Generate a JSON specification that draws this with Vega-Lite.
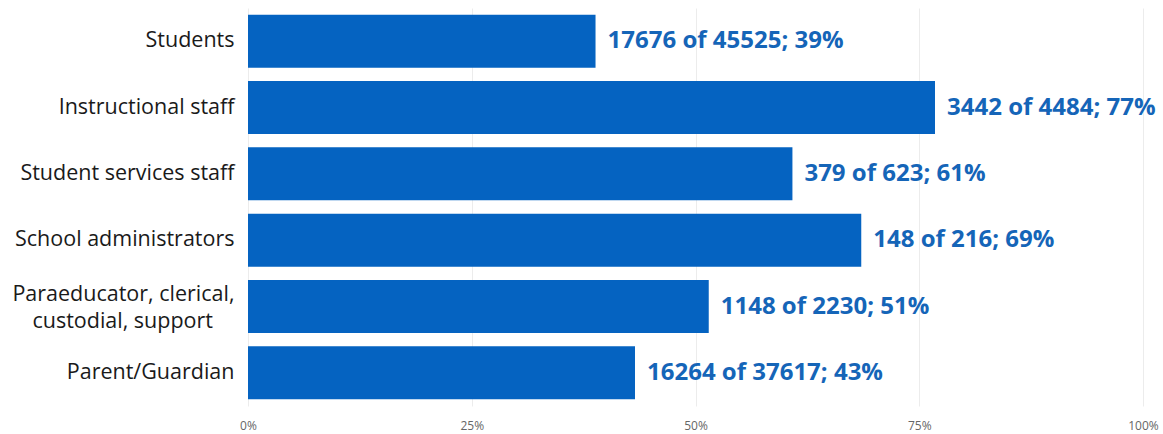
{
  "$schema": "https://vega.github.io/schema/vega-lite/v6.json",
  "autosize": {"type": "none"},
  "width": 895,
  "height": 398,
  "padding": {"left": 248, "top": 8, "right": 20, "bottom": 28},
  "background": "white",
  "config": {"view": {"stroke": null}, "font": "Open Sans"},
  "data": {
    "values": [
      {"group": "Students", "n": 17676, "total": 45525, "pct": 0.3883, "label": "17676 of 45525; 39%"},
      {"group": "Instructional staff", "n": 3442, "total": 4484, "pct": 0.7676, "label": "3442 of 4484; 77%"},
      {"group": "Student services staff", "n": 379, "total": 623, "pct": 0.6083, "label": "379 of 623; 61%"},
      {"group": "School administrators", "n": 148, "total": 216, "pct": 0.6852, "label": "148 of 216; 69%"},
      {"group": "Paraeducator, clerical, custodial, support", "n": 1148, "total": 2230, "pct": 0.5148, "label": "1148 of 2230; 51%"},
      {"group": "Parent/Guardian", "n": 16264, "total": 37617, "pct": 0.4324, "label": "16264 of 37617; 43%"}
    ]
  },
  "encoding": {
    "y": {
      "field": "group",
      "type": "nominal",
      "sort": null,
      "scale": {"paddingInner": 0.2, "paddingOuter": 0.1},
      "axis": {
        "title": null,
        "domain": false,
        "ticks": false,
        "labelFontSize": 21.5,
        "labelColor": "#1a1a1a",
        "labelPadding": 14,
        "labelLimit": 300,
        "labelExpr": "datum.value == 'Paraeducator, clerical, custodial, support' ? ['Paraeducator, clerical,', 'custodial, support\u2003\u200b'] : datum.value",
        "labelLineHeight": 27,
        "labelOffset": {"condition": {"test": "datum.value == 'Paraeducator, clerical, custodial, support'", "value": -12}, "value": 0}
      }
    },
    "x": {
      "field": "pct",
      "type": "quantitative",
      "scale": {"domain": [0, 1], "nice": false},
      "axis": {
        "title": null,
        "values": [0, 0.25, 0.5, 0.75, 1],
        "format": ".0%",
        "domain": false,
        "ticks": false,
        "grid": true,
        "gridColor": "#ececec",
        "gridWidth": 1,
        "labelFontSize": 12,
        "labelColor": "#666666",
        "labelPadding": 14,
        "labelFlush": false
      }
    }
  },
  "layer": [
    {"mark": {"type": "bar", "color": "#0563C1"}},
    {
      "mark": {"type": "text", "align": "left", "dx": 12, "fontSize": 24, "fontWeight": "bold", "color": "#1565B8"},
      "encoding": {"text": {"field": "label"}}
    }
  ]
}
